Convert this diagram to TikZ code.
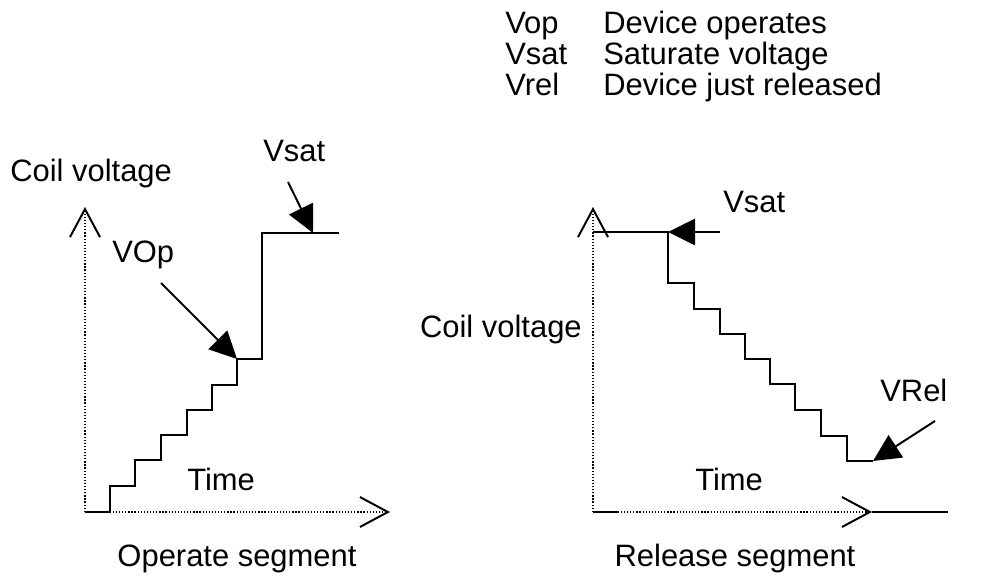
\documentclass[tikz,border=0pt]{standalone}
\usepackage{fontspec}
\setmainfont{Liberation Sans}
\usetikzlibrary{arrows.meta,calc,positioning}

\begin{document}
\begin{tikzpicture}[x=0.025cm, y=-0.025cm,
    lbl/.style={font=\fontsize{22}{26}\selectfont, inner sep=0pt},
    axisline/.style={line width=1.3pt, dash pattern=on 0.9pt off 1.3pt,
      -{Straight Barb[length=0.7cm, width=0.75cm, line width=1.4pt]}},
    trace/.style={line width=1.4pt, line join=miter},
    pointer/.style={line width=1.4pt, -{Triangle[length=0.68cm, width=0.66cm]}}
  ]
  \useasboundingbox (0,0) rectangle (992,575);

  % legend
  \node[lbl, anchor=base west] (legopA) at (505,33) {Vop};
  \node[lbl, anchor=base west] (legsatA) at (505,64) {Vsat};
  \node[lbl, anchor=base west] (legrelA) at (505,95) {Vrel};
  \node[lbl, anchor=base west] (legopB) at (603,33) {Device operates};
  \node[lbl, anchor=base west] (legsatB) at (603,64) {Saturate voltage};
  \node[lbl, anchor=base west] (legrelB) at (603,95) {Device just released};

  % operate segment
  \coordinate (opO) at (85,512);
  \draw[axisline] (opO) -- (85,207);
  \draw[axisline] (opO) -- (390,512);
  \draw[trace] (opO) -- (110,512) -- (110,486) -- (135,486) -- (135,460)
    -- (161,460) -- (161,435) -- (187,435) -- (187,410) -- (212,410)
    -- (212,385) -- (237,385) -- (237,359) coordinate (opVop)
    -- (262,359) -- (262,233) -- (339,233);
  \coordinate (opSat) at (313,233);

  \node[lbl, anchor=base west] (opCoil) at (10,181) {Coil voltage};
  \node[lbl, anchor=base west] (opVopLbl) at (112,262) {VOp};
  \node[lbl, anchor=base west] (opSatLbl) at (263,161) {Vsat};
  \node[lbl, anchor=base west] (opTime) at (187,490) {Time};
  \node[lbl, anchor=base] (opSeg) at (237,566) {Operate segment};

  \coordinate (opVopTail) at (161,283);
  \coordinate (opSatTail) at (288,182);
  \draw[pointer] (opVopTail) -- (opVop);
  \draw[pointer] (opSatTail) -- (opSat);

  % release segment
  \coordinate (reO) at (593,512);
  \draw[axisline] (reO) -- (593,207);
  \draw[axisline] (reO) -- (872,512) coordinate (reEnd);
  \draw[trace] (reEnd) -- (948,512);
  \draw[trace] (reO) -- (619,512);
  \draw[trace] (593,232) -- (668,232) coordinate (reSat)
    -- (668,283) -- (694,283) -- (694,309) -- (720,309) -- (720,334)
    -- (745,334) -- (745,359) -- (770,359) -- (770,384) -- (795,384)
    -- (795,410) -- (821,410) -- (821,436) -- (847,436) -- (847,461)
    -- (873,461) coordinate (reRel);

  \node[lbl, anchor=base east] (reCoil) at (582,337) {Coil voltage};
  \node[lbl, anchor=base west] (reSatLbl) at (723,212) {Vsat};
  \node[lbl, anchor=base west] (reRelLbl) at (880,401) {VRel};
  \node[lbl, anchor=base west] (reTime) at (695,490) {Time};
  \node[lbl, anchor=base] (reSeg) at (735,566) {Release segment};

  \coordinate (reSatTail) at (720,232);
  \coordinate (reRelTail) at (935,421);
  \draw[pointer] (reSatTail) -- (reSat);
  \draw[pointer] (reRelTail) -- (reRel);
\end{tikzpicture}
\end{document}
